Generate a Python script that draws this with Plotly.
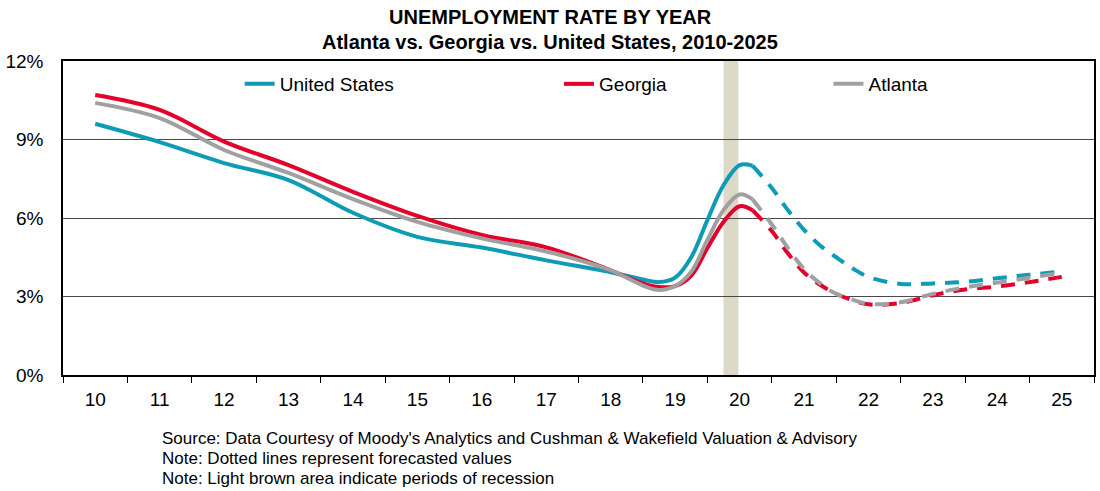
import plotly.graph_objects as go

# ---------------- data ----------------
hist_years = [2010, 2011, 2012, 2013, 2014, 2015, 2016, 2017, 2018, 2018.5, 2018.75,
              2019.0, 2019.25, 2019.5, 2019.75, 2020.0, 2020.2]
us_hist = [9.6, 8.9, 8.1, 7.45, 6.2, 5.28, 4.87, 4.38, 3.93, 3.65, 3.55,
           3.72, 4.5, 5.92, 7.25, 8.02, 8.0]
ga_hist = [10.7, 10.13, 8.92, 8.02, 7.0, 6.08, 5.35, 4.88, 4.0, 3.5, 3.36,
           3.4, 3.8, 4.85, 5.85, 6.45, 6.3]
atl_hist = [10.4, 9.82, 8.6, 7.72, 6.72, 5.85, 5.22, 4.72, 4.0, 3.42, 3.25,
            3.4, 3.95, 5.16, 6.3, 6.9, 6.72]

fcst_years = [2020.2, 2020.5, 2020.75, 2021.0, 2021.25, 2021.5, 2021.75, 2022.0,
              2022.5, 2023.0, 2023.5, 2024.0, 2024.5, 2025.0]
us_fcst = [8.0, 7.15, 6.3, 5.55, 4.95, 4.5, 4.08, 3.75, 3.48, 3.5, 3.56, 3.7, 3.83, 3.95]
ga_fcst = [6.3, 5.5, 4.65, 3.92, 3.45, 3.1, 2.86, 2.7, 2.75, 3.05, 3.27, 3.38, 3.55, 3.75]
atl_fcst = [6.72, 5.75, 4.85, 4.05, 3.5, 3.1, 2.88, 2.72, 2.78, 3.1, 3.35, 3.53, 3.72, 3.9]

year_ticks = list(range(2010, 2026))
year_labels = [str(y)[2:] for y in year_ticks]
y_ticks = [0, 3, 6, 9, 12]
y_labels = [f"{v}%" for v in y_ticks]
recession = [2019.75, 2019.98]

title_lines = ["UNEMPLOYMENT RATE BY YEAR", "Atlanta vs. Georgia vs. United States, 2010-2025"]
notes = [
    "Source: Data Courtesy of Moody's Analytics and Cushman & Wakefield Valuation & Advisory",
    "Note: Dotted lines represent forecasted values",
    "Note: Light brown area indicate periods of recession",
]

series = [
    ("United States", us_hist, us_fcst, "#0E9BB5", "legend"),
    ("Georgia", ga_hist, ga_fcst, "#E4002B", "legend2"),
    ("Atlanta", atl_hist, atl_fcst, "#A0A0A0", "legend3"),
]

FONT = "Liberation Sans, Arial, sans-serif"

fig = go.Figure()
for name, h, f, col, leg in series:
    fig.add_trace(go.Scatter(
        x=hist_years, y=h, mode="lines", name=name, legend=leg,
        line=dict(color=col, width=4, shape="spline", smoothing=1.0),
        hoverinfo="skip"))
for name, h, f, col, leg in series:
    fig.add_trace(go.Scatter(
        x=fcst_years, y=f, mode="lines", name=name + " (forecast)", showlegend=False,
        line=dict(color=col, width=4, shape="spline", smoothing=1.0, dash="14px,10px"),
        hoverinfo="skip"))

fig.add_vrect(x0=recession[0], x1=recession[1], fillcolor="#DCD9C8", opacity=1,
              line_width=0, layer="below")

L, R, T, B = 63, 4, 61, 116
W, H = 1100, 491
pw = W - L - R
ph = H - T - B

def px_x(p):
    return (p - L) / pw

def px_y(p):
    return (H - B - p) / ph

leg_common = dict(orientation="h", yanchor="middle", y=px_y(84), xanchor="left",
                  bgcolor="rgba(0,0,0,0)", font=dict(family=FONT, size=19, color="#000"),
                  borderwidth=0)

fig.update_layout(
    width=W, height=H,
    margin=dict(l=L, r=R, t=T, b=B),
    paper_bgcolor="white", plot_bgcolor="white",
    font=dict(family=FONT, color="#000"),
    legend=dict(x=px_x(240), **leg_common),
    legend2=dict(x=px_x(560), **leg_common),
    legend3=dict(x=px_x(830), **leg_common),
    xaxis=dict(range=[2009.5, 2025.5], tickvals=year_ticks, ticktext=year_labels,
               ticks="", showgrid=False, showline=True, linecolor="#000", linewidth=1.5,
               mirror=True, zeroline=False,
               tickfont=dict(family=FONT, size=19, color="#000"),
               minor=dict(tickvals=[y + 0.5 for y in range(2009, 2026)], ticks="outside",
                          ticklen=6, tickcolor="#000", tickwidth=1, showgrid=False),
               ticklabelstandoff=6),
    yaxis=dict(range=[0, 12], tickvals=y_ticks, ticktext=y_labels,
               ticks="", showgrid=True, gridcolor="#4A4A4A", gridwidth=1.2,
               showline=True, linecolor="#000", linewidth=1.5, mirror=True,
               zeroline=False, tickfont=dict(family=FONT, size=19, color="#000"),
               ticklabelstandoff=14),
)

for i, t in enumerate(title_lines):
    fig.add_annotation(text=f"<b>{t}</b>", xref="paper", yref="paper",
                       x=px_x(551), y=px_y(17 + 25 * i), xanchor="center", yanchor="middle",
                       showarrow=False, font=dict(family=FONT, size=20, color="#000"))

for i, t in enumerate(notes):
    fig.add_annotation(text=t, xref="paper", yref="paper", x=px_x(160), y=px_y(438 + 20 * i),
                       xanchor="left", yanchor="middle", showarrow=False, align="left",
                       font=dict(family=FONT, size=17, color="#000"))

fig.write_html("out.html")
